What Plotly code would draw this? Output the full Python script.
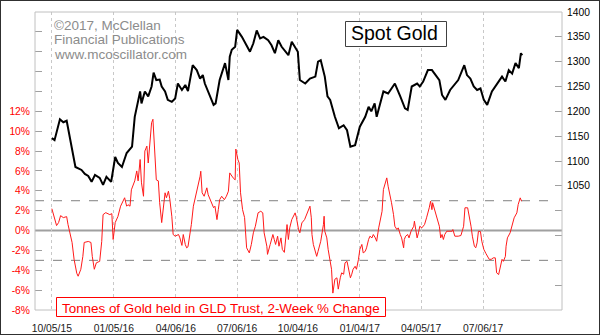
import plotly.graph_objects as go

# Spot gold price (USD/oz)
gold_dates = [
    "2015-10-05", "2015-10-09", "2015-10-17", "2015-10-22", "2015-10-27", "2015-10-29",
    "2015-11-03", "2015-11-09", "2015-11-18", "2015-11-23", "2015-11-28", "2015-12-03",
    "2015-12-08", "2015-12-15", "2015-12-20", "2015-12-25", "2016-01-01", "2016-01-07",
    "2016-01-11", "2016-01-17", "2016-01-24", "2016-02-01", "2016-02-05", "2016-02-09",
    "2016-02-13", "2016-02-15", "2016-02-20", "2016-02-25", "2016-03-01", "2016-03-04",
    "2016-03-08", "2016-03-13", "2016-03-16", "2016-03-21", "2016-03-25", "2016-03-31",
    "2016-04-05", "2016-04-09", "2016-04-15", "2016-04-20", "2016-04-24", "2016-05-01",
    "2016-05-07", "2016-05-12", "2016-05-16", "2016-05-19", "2016-05-27", "2016-06-01",
    "2016-06-04", "2016-06-10", "2016-06-18", "2016-06-23", "2016-06-25", "2016-06-28",
    "2016-07-03", "2016-07-06", "2016-07-13", "2016-07-18", "2016-07-25", "2016-07-30",
    "2016-08-04", "2016-08-09", "2016-08-14", "2016-08-21", "2016-08-26", "2016-08-31",
    "2016-09-05", "2016-09-10", "2016-09-18", "2016-09-20", "2016-09-25", "2016-09-30",
    "2016-10-04", "2016-10-07", "2016-10-15", "2016-10-22", "2016-10-30", "2016-11-03",
    "2016-11-07", "2016-11-13", "2016-11-17", "2016-11-21", "2016-11-28", "2016-12-04",
    "2016-12-11", "2016-12-16", "2016-12-21", "2016-12-28", "2017-01-04", "2017-01-12",
    "2017-01-17", "2017-01-21", "2017-01-26", "2017-01-29", "2017-02-03", "2017-02-08",
    "2017-02-15", "2017-02-20", "2017-02-25", "2017-03-05", "2017-03-12", "2017-03-16",
    "2017-03-22", "2017-03-30", "2017-04-03", "2017-04-08", "2017-04-15", "2017-04-21",
    "2017-04-28", "2017-05-02", "2017-05-06", "2017-05-11", "2017-05-18", "2017-05-25",
    "2017-05-30", "2017-06-08", "2017-06-12", "2017-06-17", "2017-06-22", "2017-06-27",
    "2017-07-02", "2017-07-07", "2017-07-12", "2017-07-19", "2017-07-26", "2017-08-03",
    "2017-08-08", "2017-08-13", "2017-08-18", "2017-08-23", "2017-08-28", "2017-08-31",
    "2017-09-02",
]
gold_price = [
    1146, 1142, 1184, 1178, 1181, 1166,
    1132, 1088, 1082, 1074, 1070, 1058,
    1072, 1066, 1052, 1068, 1058, 1108,
    1096, 1088, 1116, 1129, 1189, 1213,
    1240, 1216, 1240, 1230, 1250, 1278,
    1263, 1264, 1250, 1240, 1223, 1219,
    1226, 1256, 1243, 1253, 1241, 1293,
    1283, 1266, 1273, 1256, 1230, 1213,
    1216, 1263, 1297, 1263, 1310, 1324,
    1330, 1364, 1350, 1337, 1320, 1337,
    1363, 1347, 1350, 1343, 1333, 1317,
    1343, 1330, 1317, 1313, 1340, 1330,
    1320, 1263, 1256, 1266, 1270, 1300,
    1303, 1270, 1230, 1223, 1189, 1166,
    1172, 1162, 1129, 1132, 1169, 1189,
    1209, 1200, 1216, 1189, 1216, 1240,
    1236, 1246, 1256, 1230, 1206, 1203,
    1250, 1256, 1250, 1260, 1283, 1283,
    1270, 1263, 1233, 1223, 1243, 1256,
    1263, 1293, 1273, 1266, 1250, 1243,
    1246, 1223, 1213, 1240, 1253, 1270,
    1260, 1283, 1276, 1297, 1287, 1317,
    1313,
]

# Tonnes of gold held in the GLD trust, 2-week % change
gld_dates = [
    "2015-10-05", "2015-10-08", "2015-10-12", "2015-10-15", "2015-10-18", "2015-10-22",
    "2015-10-27", "2015-10-29", "2015-11-01", "2015-11-04", "2015-11-07", "2015-11-11",
    "2015-11-13", "2015-11-17", "2015-11-20", "2015-11-22", "2015-11-28", "2015-12-02",
    "2015-12-04", "2015-12-07", "2015-12-10", "2015-12-15", "2015-12-18", "2015-12-20",
    "2015-12-24", "2015-12-30", "2016-01-02", "2016-01-04", "2016-01-07", "2016-01-11",
    "2016-01-15", "2016-01-19", "2016-01-21", "2016-01-24", "2016-01-26", "2016-01-29",
    "2016-01-31", "2016-02-05", "2016-02-08", "2016-02-10", "2016-02-13", "2016-02-15",
    "2016-02-18", "2016-02-20", "2016-02-23", "2016-02-25", "2016-02-28", "2016-03-01",
    "2016-03-03", "2016-03-06", "2016-03-08", "2016-03-11", "2016-03-13", "2016-03-16",
    "2016-03-18", "2016-03-21", "2016-03-23", "2016-03-26", "2016-03-28", "2016-03-31",
    "2016-04-02", "2016-04-05", "2016-04-10", "2016-04-12", "2016-04-15", "2016-04-17",
    "2016-04-20", "2016-04-22", "2016-04-24", "2016-04-27", "2016-04-29", "2016-05-02",
    "2016-05-05", "2016-05-08", "2016-05-12", "2016-05-13", "2016-05-15", "2016-05-18",
    "2016-05-22", "2016-05-24", "2016-05-28", "2016-06-01", "2016-06-03", "2016-06-06",
    "2016-06-08", "2016-06-10", "2016-06-13", "2016-06-17", "2016-06-20", "2016-06-23",
    "2016-06-25", "2016-06-28", "2016-06-30", "2016-07-03", "2016-07-04", "2016-07-07",
    "2016-07-09", "2016-07-11", "2016-07-14", "2016-07-17", "2016-07-19", "2016-07-20",
    "2016-07-24", "2016-07-27", "2016-07-30", "2016-08-02", "2016-08-06", "2016-08-10",
    "2016-08-13", "2016-08-15", "2016-08-19", "2016-08-20", "2016-08-24", "2016-08-28",
    "2016-08-30", "2016-09-01", "2016-09-04", "2016-09-06", "2016-09-09", "2016-09-11",
    "2016-09-14", "2016-09-16", "2016-09-18", "2016-09-20", "2016-09-22", "2016-09-25",
    "2016-09-30", "2016-10-02", "2016-10-05", "2016-10-07", "2016-10-10", "2016-10-14",
    "2016-10-17", "2016-10-22", "2016-10-24", "2016-10-25", "2016-10-27", "2016-11-01",
    "2016-11-03", "2016-11-07", "2016-11-11", "2016-11-12", "2016-11-13", "2016-11-16",
    "2016-11-18", "2016-11-21", "2016-11-23", "2016-11-25", "2016-11-28", "2016-12-01",
    "2016-12-03", "2016-12-06", "2016-12-08", "2016-12-11", "2016-12-13", "2016-12-16",
    "2016-12-18", "2016-12-21", "2016-12-23", "2016-12-25", "2016-12-28", "2016-12-30",
    "2017-01-02", "2017-01-04", "2017-01-07", "2017-01-09", "2017-01-12", "2017-01-14",
    "2017-01-17", "2017-01-19", "2017-01-22", "2017-01-24", "2017-01-27", "2017-01-29",
    "2017-02-01", "2017-02-03", "2017-02-06", "2017-02-08", "2017-02-11", "2017-02-13",
    "2017-02-15", "2017-02-18", "2017-02-20", "2017-02-23", "2017-02-25", "2017-02-28",
    "2017-03-02", "2017-03-05", "2017-03-07", "2017-03-10", "2017-03-11", "2017-03-13",
    "2017-03-16", "2017-03-18", "2017-03-21", "2017-03-25", "2017-03-26", "2017-03-28",
    "2017-03-30", "2017-04-01", "2017-04-03", "2017-04-06", "2017-04-10", "2017-04-13",
    "2017-04-16", "2017-04-17", "2017-04-19", "2017-04-21", "2017-04-22", "2017-04-25",
    "2017-04-27", "2017-04-30", "2017-05-02", "2017-05-04", "2017-05-06", "2017-05-08",
    "2017-05-10", "2017-05-13", "2017-05-17", "2017-05-21", "2017-05-22", "2017-05-25",
    "2017-05-30", "2017-06-03", "2017-06-07", "2017-06-09", "2017-06-13", "2017-06-16",
    "2017-06-18", "2017-06-20", "2017-06-23", "2017-06-25", "2017-06-27", "2017-06-29",
    "2017-07-02", "2017-07-04", "2017-07-07", "2017-07-10", "2017-07-13", "2017-07-15",
    "2017-07-18", "2017-07-21", "2017-07-24", "2017-07-26", "2017-07-29", "2017-07-31",
    "2017-08-03", "2017-08-05", "2017-08-08", "2017-08-09", "2017-08-11", "2017-08-15",
    "2017-08-18", "2017-08-21", "2017-08-25", "2017-08-27", "2017-08-30", "2017-09-01",
]
gld_change = [
    2.2, 1.4, 0.5, 0.8, 1.5, 1.3,
    1.4, 0.6, -0.4, -1.2, -2.9, -4.3,
    -4.6, -3.9, -2.6, -1.2, -1.1, -1.2,
    -2.6, -3.9, -3.25, -3.1, -1.1, 1.6,
    1.8, 1.6, 1.7, -0.9, 0.8, 1.4,
    2.45, 2.95, 3.3, 2.45, 2.6, 2.45,
    4.1, 5.0, 6.0, 5.0, 7.15, 4.8,
    3.45, 8.0, 8.5, 6.8, 8.8, 10.85,
    11.2, 7.15, 5.1, 5.0, 2.8, 0.8,
    1.8, 3.8, 3.3, 3.96, 3.2, 1.44,
    -0.4, -0.57, -0.4, -0.74, -1.5, -0.4,
    -1.4, -1.74, -1.64, -0.4, 0.6, 2.45,
    3.3, 4.46, 5.47, 5.97, 3.8, 3.45,
    4.3, 3.6, 2.95, 2.3, 2.45, 1.1,
    2.1, 3.1, 3.45, 3.1, 3.45, 3.96,
    5.8, 5.47, 5.3, 5.1, 8.2, 7.15,
    6.8, 3.8, 2.1, 1.3, -0.57, -1.74,
    -2.25, -1.4, -0.23, 0.43, 1.78, 1.94,
    1.78, -0.23, -1.58, -2.4, -1.4, -0.4,
    -0.9, -1.4, -0.57, -1.58, -0.74, -1.9,
    -2.2, -0.74, 0.6, -0.9, 0.27, 1.1,
    1.78, 1.28, 0.1, -0.23, 0.77, 1.1,
    1.6, 2.45, 1.28, -0.4, -1.4, -2.6,
    -2.1, -1.08, 0.6, 1.44, -0.07, -0.74,
    -1.9, -2.9, -3.9, -6.3, -4.9, -4.76,
    -5.9, -4.76, -4.26, -4.4, -3.25, -3.1,
    -3.76, -4.76, -4.4, -3.9, -3.6, -3.9,
    -2.9, -1.9, -1.4, -2.25, -2.1, -1.74,
    -0.9, -0.57, -0.74, -0.4, -0.74, -1.08,
    0.27, 1.1, 1.94, 4.13, 4.97, 5.3,
    4.46, 3.6, 2.8, 1.6, 0.43, 0.1,
    0.27, -0.4, -0.74, -1.74, -0.9, -0.57,
    -0.4, -0.74, -0.07, 0.43, 0.94, 0.1,
    -0.74, -0.23, 0.43, 0.27, 0.6, 1.28,
    1.94, 2.29, 2.95, 2.1, 2.8, 2.1,
    1.6, 0.77, 0.43, -0.74, -0.4, -0.9,
    -0.4, -0.07, -0.1, -0.07, 0.1, -0.57,
    -0.57, -0.5, 0.43, 2.29, 2.29, 1.28,
    0.43, -0.57, -1.58, -1.74, -1.24, -0.07,
    -0.1, -1.08, -1.9, -2.3, -2.65, -2.9,
    -2.9, -2.75, -2.75, -4.26, -4.43, -3.9,
    -2.9, -3.1, -2.6, -1.58, -0.74, -0.23,
    0.43, 1.28, 1.78, 2.62, 3.29, 2.95,
]

x_ticks = ["2015-10-05", "2016-01-05", "2016-04-06", "2016-07-06",
           "2016-10-04", "2017-01-04", "2017-04-05", "2017-07-06"]
x_tick_labels = ["10/05/15", "01/05/16", "04/06/16", "07/06/16",
                 "10/04/16", "01/04/17", "04/05/17", "07/06/17"]

pct_ticks = [-8, -6, -4, -2, 0, 2, 4, 6, 8, 10, 12, 14, 16, 18, 20]
pct_labels = [f"{v}%" if v <= 12 else "" for v in pct_ticks]
price_ticks = list(range(850, 1401, 50))
price_labels = [str(v) if v >= 1050 else "" for v in price_ticks]

FONT = "Liberation Sans, Arial, sans-serif"
W, H = 600, 335
L, R, T, B = 35, 38, 12, 25
PW, PH = W - L - R, H - T - B


def px(xpix):
    return (xpix - L) / PW


def py(ypix):
    return (H - B - ypix) / PH


fig = go.Figure()

fig.add_trace(go.Scatter(
    x=gld_dates, y=gld_change, mode="lines", yaxis="y",
    line=dict(color="#ff1a1a", width=1), hoverinfo="skip", showlegend=False,
))
fig.add_trace(go.Scatter(
    x=gold_dates, y=gold_price, mode="lines", yaxis="y2",
    line=dict(color="#000000", width=2), hoverinfo="skip", showlegend=False,
))

shapes = [
    # zero line and +/-3% reference lines
    dict(type="line", xref="paper", yref="y", x0=0, x1=1, y0=0, y1=0,
         line=dict(color="#a0a0a0", width=2), layer="below"),
    dict(type="line", xref="paper", yref="y", x0=0, x1=px(550), y0=3, y1=3,
         line=dict(color="#808080", width=1, dash="dash"), layer="below"),
    dict(type="line", xref="paper", yref="y", x0=0, x1=px(550), y0=-3, y1=-3,
         line=dict(color="#808080", width=1, dash="dash"), layer="below"),
    # plot frame
    dict(type="rect", xref="paper", yref="paper", x0=0, x1=1, y0=0, y1=1,
         line=dict(color="#c0c0c0", width=1)),
    # outer border
    dict(type="rect", xref="paper", yref="paper", x0=px(0), x1=px(W), y0=py(H), y1=py(0),
         line=dict(color="#303030", width=2)),
    # title box
    dict(type="rect", xref="paper", yref="paper", x0=px(345.5), x1=px(446.5),
         y0=py(46.5), y1=py(21.5), line=dict(color="#404040", width=1), fillcolor="white"),
    # series label box
    dict(type="rect", xref="paper", yref="paper", x0=px(56.5), x1=px(385.5),
         y0=py(316.5), y1=py(297.5), line=dict(color="#ff0000", width=1), fillcolor="white"),
]

annotations = [
    dict(text="©2017, McClellan", x=px(52), y=py(25.5)),
    dict(text="Financial Publications", x=px(52), y=py(40)),
    dict(text="www.mcoscillator.com", x=px(52), y=py(54.5)),
]
annotations = [dict(a, xref="paper", yref="paper", xanchor="left", yanchor="middle",
                    showarrow=False, font=dict(family=FONT, size=13.5, color="#8c8c8c"))
               for a in annotations]
annotations.append(dict(text="Spot Gold", x=px(394.5), y=py(33.5), xref="paper", yref="paper",
                        xanchor="center", yanchor="middle", showarrow=False,
                        font=dict(family=FONT, size=19.5, color="#000000")))
annotations.append(dict(text="Tonnes of Gold held in GLD Trust, 2-Week % Change",
                        x=px(221), y=py(308.5), xref="paper", yref="paper",
                        xanchor="center", yanchor="middle", showarrow=False,
                        font=dict(family=FONT, size=13.4, color="#ff0000")))

fig.update_layout(
    width=W, height=H,
    margin=dict(l=L, r=R, t=T, b=B, pad=0, autoexpand=False),
    paper_bgcolor="white", plot_bgcolor="white",
    font=dict(family=FONT, size=10.3, color="#000000"),
    showlegend=False,
    shapes=shapes,
    annotations=annotations,
    xaxis=dict(
        type="date", range=["2015-09-10", "2017-10-31"],
        tickvals=x_ticks, ticktext=x_tick_labels,
        showgrid=True, gridcolor="#c8c8c8", gridwidth=1, griddash="dot",
        ticks="", showline=False, zeroline=False, automargin=False,
        tickfont=dict(family=FONT, size=10.3, color="#202020"),
        ticklabelstandoff=11,
    ),
    yaxis=dict(
        range=[-8, 22], tickvals=pct_ticks, ticktext=pct_labels,
        ticks="inside", ticklen=7, tickcolor="#a0a0a0", tickwidth=1,
        showgrid=False, zeroline=False, showline=False, automargin=False,
        tickfont=dict(family=FONT, size=10.3, color="#ff0000"),
        ticklabelstandoff=4,
    ),
    yaxis2=dict(
        range=[800, 1400], overlaying="y", side="right",
        tickvals=price_ticks, ticktext=price_labels,
        ticks="inside", ticklen=7, tickcolor="#a0a0a0", tickwidth=1,
        showgrid=False, zeroline=False, showline=False, automargin=False,
        tickfont=dict(family=FONT, size=10.3, color="#000000"),
        ticklabelstandoff=4,
    ),
)

fig.write_html("out.html")
